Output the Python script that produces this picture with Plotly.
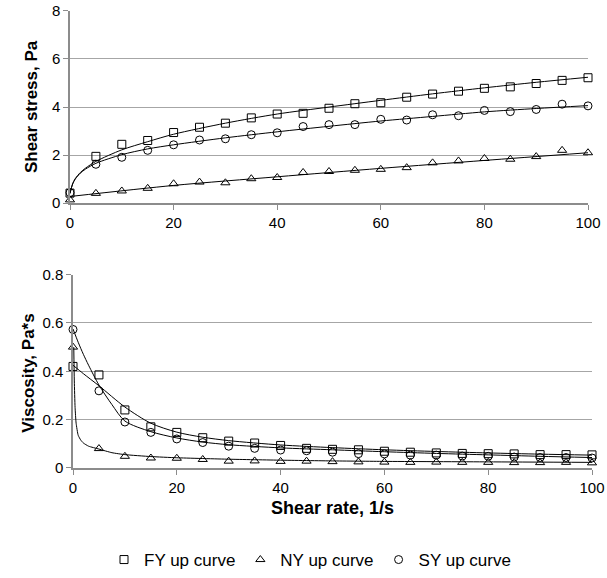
import plotly.graph_objects as go

# ---- data ----
rate = [0, 5, 10, 15, 20, 25, 30, 35, 40, 45, 50, 55, 60, 65, 70, 75, 80, 85, 90, 95, 100]

fy_stress = [0.42, 1.95, 2.45, 2.61, 2.94, 3.16, 3.33, 3.55, 3.71, 3.74, 3.95,
             4.14, 4.18, 4.41, 4.54, 4.66, 4.78, 4.84, 4.98, 5.11, 5.22]
ny_stress = [0.14, 0.41, 0.51, 0.62, 0.81, 0.88, 0.85, 1.02, 1.07, 1.28, 1.32,
             1.37, 1.41, 1.48, 1.68, 1.76, 1.86, 1.83, 1.94, 2.20, 2.10]
sy_stress = [0.44, 1.62, 1.91, 2.20, 2.43, 2.63, 2.68, 2.85, 2.93, 3.19, 3.27,
             3.27, 3.49, 3.46, 3.68, 3.64, 3.86, 3.81, 3.90, 4.12, 4.05]

fy_visc = [0.42, 0.385, 0.24, 0.17, 0.147, 0.125, 0.111, 0.103, 0.093, 0.081, 0.077,
           0.075, 0.069, 0.065, 0.062, 0.060, 0.059, 0.058, 0.055, 0.055, 0.054]
ny_visc = [0.50, 0.080, 0.048, 0.041, 0.040, 0.035, 0.028, 0.029, 0.027, 0.028, 0.026,
           0.025, 0.024, 0.023, 0.024, 0.023, 0.023, 0.022, 0.022, 0.023, 0.021]
sy_visc = [0.573, 0.319, 0.19, 0.147, 0.12, 0.105, 0.09, 0.081, 0.074, 0.071, 0.065,
           0.059, 0.058, 0.053, 0.053, 0.049, 0.048, 0.045, 0.043, 0.043, 0.041]

# fitted curves
fit_stress_x = [0, 0.5, 1, 2, 3, 5, 10, 15, 20, 30, 40, 50, 60, 70, 80, 90, 100]
fy_fit_stress = [0.40, 0.80, 1.02, 1.28, 1.46, 1.74, 2.22, 2.56, 2.87, 3.33, 3.71,
                 4.00, 4.28, 4.55, 4.80, 5.03, 5.24]
sy_fit_stress = [0.42, 0.80, 1.00, 1.25, 1.42, 1.66, 2.02, 2.26, 2.43, 2.72, 2.97,
                 3.20, 3.42, 3.61, 3.80, 3.94, 4.06]
ny_fit_stress_x = [0, 20, 40, 60, 80, 100]
ny_fit_stress = [0.28, 0.74, 1.10, 1.45, 1.78, 2.10]

fy_fit_visc_x = [0, 2, 5, 10, 15, 20, 25, 30, 40, 50, 60, 70, 80, 90, 100]
fy_fit_visc = [0.425, 0.39, 0.34, 0.252, 0.185, 0.148, 0.127, 0.113, 0.095, 0.084,
               0.075, 0.068, 0.062, 0.057, 0.053]
sy_fit_visc_x = [0, 1, 2, 3, 5, 7.5, 10, 15, 20, 25, 30, 40, 50, 60, 70, 80, 90, 100]
sy_fit_visc = [0.575, 0.52, 0.47, 0.425, 0.343, 0.262, 0.194, 0.15, 0.124, 0.107,
               0.096, 0.083, 0.075, 0.067, 0.060, 0.054, 0.048, 0.043]
ny_fit_visc_x = [0.15, 0.25, 0.4, 0.6, 1, 1.5, 2, 3, 5, 7.5, 10, 15, 20, 30, 40,
                 50, 60, 80, 100]
ny_fit_visc = [0.50, 0.36, 0.25, 0.185, 0.135, 0.115, 0.103, 0.09, 0.078, 0.063,
               0.055, 0.047, 0.042, 0.036, 0.032, 0.029, 0.027, 0.025, 0.023]

series_names = ["FY up curve", "NY up curve", "SY up curve"]
symbols = ["square-open", "triangle-up-open", "circle-open"]

FONT = "Liberation Sans, Arial, sans-serif"
W, H = 607, 578


def fx(px):
    return px / W


def fy(py):
    return 1 - py / H


fig = go.Figure()

line_style = dict(color="black", width=1)

fits = [
    (fit_stress_x, fy_fit_stress, "x", "y", 0.8),
    (fit_stress_x, sy_fit_stress, "x", "y", 0.8),
    (ny_fit_stress_x, ny_fit_stress, "x", "y", 0.8),
    (fy_fit_visc_x, fy_fit_visc, "x2", "y2", 0.8),
    (sy_fit_visc_x, sy_fit_visc, "x2", "y2", 0.8),
    (ny_fit_visc_x, ny_fit_visc, "x2", "y2", 0.5),
]
for xs, ys, xa, ya, sm in fits:
    fig.add_trace(go.Scatter(x=xs, y=ys, mode="lines",
                             line=dict(shape="spline", smoothing=sm, **line_style),
                             showlegend=False, xaxis=xa, yaxis=ya, hoverinfo="skip"))

stress = [fy_stress, ny_stress, sy_stress]
visc = [fy_visc, ny_visc, sy_visc]
for i in range(3):
    mk = dict(symbol=symbols[i], size=8, color="black", line=dict(width=1, color="black"))
    fig.add_trace(go.Scatter(x=rate, y=stress[i], mode="markers", marker=mk, name=series_names[i],
                             legendgroup=series_names[i], showlegend=True, cliponaxis=False,
                             xaxis="x", yaxis="y"))
    fig.add_trace(go.Scatter(x=rate, y=visc[i], mode="markers", marker=mk, name=series_names[i],
                             legendgroup=series_names[i], showlegend=False, cliponaxis=False,
                             xaxis="x2", yaxis="y2"))

axis_common = dict(
    showline=True, linecolor="#8c8c8c", linewidth=1.5,
    ticks="outside", ticklen=5, tickcolor="#8c8c8c", tickwidth=1,
    zeroline=False, tickfont=dict(family=FONT, size=15, color="black"),
    ticklabeloverflow="allow",
    automargin=False, fixedrange=True,
)

fig.update_layout(
    width=W, height=H,
    margin=dict(l=0, r=0, t=0, b=0),
    paper_bgcolor="white", plot_bgcolor="white",
    font=dict(family=FONT, color="black"),
    xaxis=dict(domain=[fx(70), fx(588)], anchor="y", range=[0, 100], dtick=20,
               showgrid=False, **axis_common),
    yaxis=dict(domain=[fy(205), fy(11)], anchor="x", range=[0, 8], dtick=2,
               showgrid=True, gridcolor="#a6a6a6", gridwidth=1.2, **axis_common),
    xaxis2=dict(domain=[fx(73), fx(592)], anchor="y2", range=[0, 100], dtick=20,
                showgrid=False, **axis_common),
    yaxis2=dict(domain=[fy(472), fy(277)], anchor="x2", range=[0, 0.8], dtick=0.2,
                showgrid=True, gridcolor="#a6a6a6", gridwidth=1.2, **axis_common),
    showlegend=True,
    legend=dict(orientation="h", x=fx(310), xanchor="center", y=fy(565), yanchor="middle",
                font=dict(family=FONT, size=17, color="black"), itemwidth=30,
                bgcolor="rgba(0,0,0,0)"),
    annotations=[
        dict(text="<b>Shear stress, Pa</b>", x=fx(31), y=fy(108), xref="paper", yref="paper",
             textangle=-90, showarrow=False, font=dict(family=FONT, size=17, color="black"),
             xanchor="center", yanchor="middle"),
        dict(text="<b>Viscosity, Pa*s</b>", x=fx(29), y=fy(377), xref="paper", yref="paper",
             textangle=-90, showarrow=False, font=dict(family=FONT, size=17, color="black"),
             xanchor="center", yanchor="middle"),
        dict(text="<b>Shear rate, 1/s</b>", x=fx(332), y=fy(512), xref="paper", yref="paper",
             showarrow=False, font=dict(family=FONT, size=18, color="black"),
             xanchor="center", yanchor="middle"),
    ],
)

# the page's default body margin would shift the figure; remove it
fig.write_html("out.html", config={"displayModeBar": False},
               post_script="document.body.style.margin='0px';")
